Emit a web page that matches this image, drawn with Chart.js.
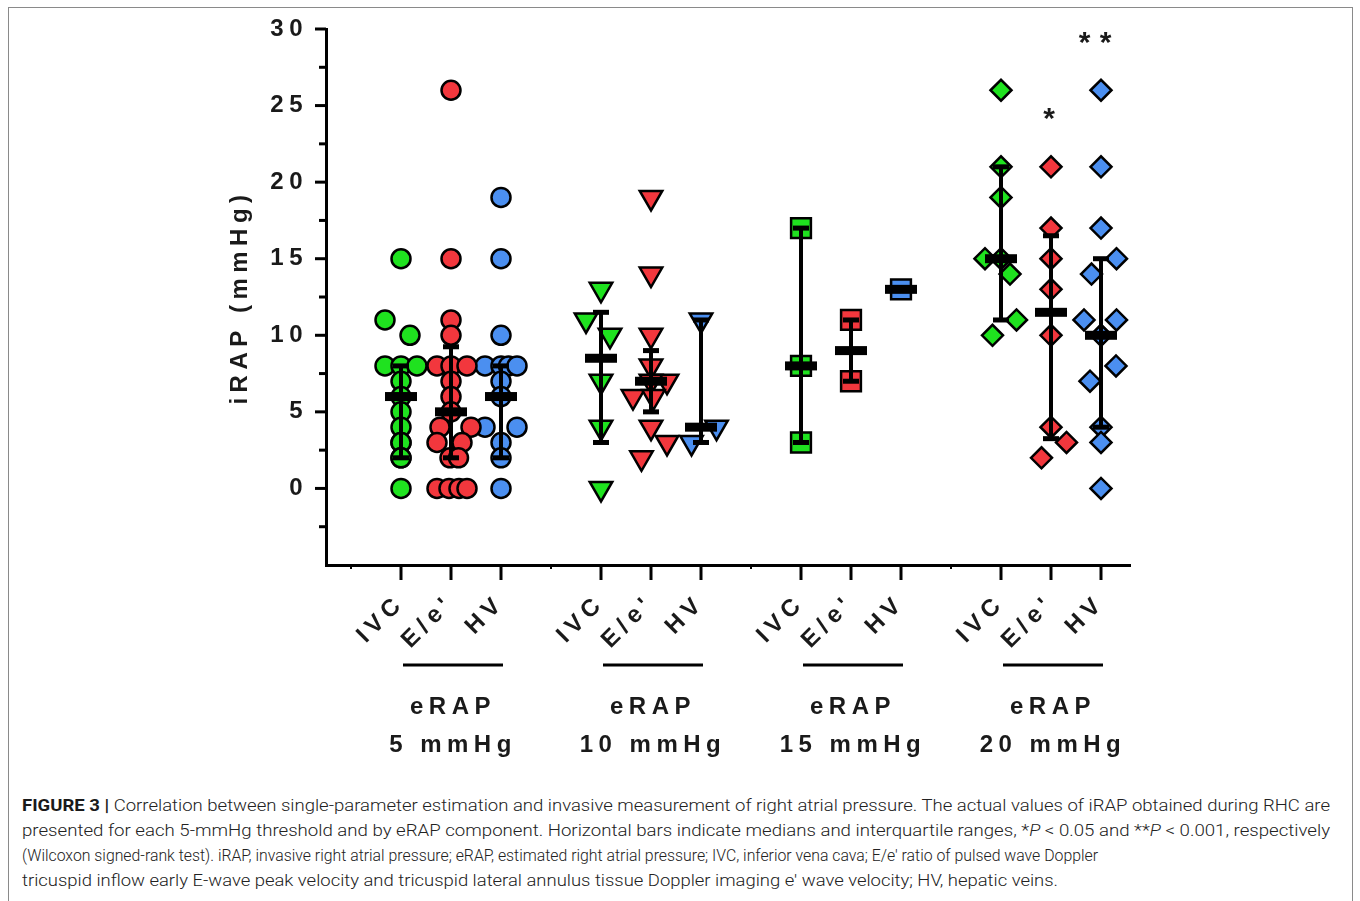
<!DOCTYPE html>
<html>
<head>
<meta charset="utf-8">
<title>iRAP by eRAP threshold</title>
<script src="https://cdn.jsdelivr.net/npm/chart.js@4.4.1/dist/chart.umd.min.js"></script>
<style>
  html, body { margin: 0; padding: 0; background: #fff; }
  body { width: 1360px; height: 901px; position: relative; overflow: hidden; }
  #frame {
    position: absolute; left: 8px; top: 7px; width: 1345px; height: 905px;
    border: 1.5px solid #8a8a8a; box-sizing: border-box;
  }
  #chart { position: absolute; left: 0; top: 0; }
  #caption {
    position: absolute; left: 22px; top: 793px;
    font-family: Roboto, "Liberation Sans", Arial, sans-serif;
    font-weight: 300; font-size: 17px; line-height: 25px; color: #222;
  }
  #caption .ln { white-space: nowrap; width: max-content; transform-origin: 0 50%; }
  #caption b { font-weight: 700; color: #1a1a1a; }
</style>
</head>
<body>
<div id="frame"></div>
<canvas id="chart" width="1360" height="780"></canvas>
<div id="caption">
  <div class="ln"><b>FIGURE 3 |</b> Correlation between single-parameter estimation and invasive measurement of right atrial pressure. The actual values of iRAP obtained during RHC are</div>
  <div class="ln">presented for each 5-mmHg threshold and by eRAP component. Horizontal bars indicate medians and interquartile ranges, *<i>P</i> &lt; 0.05 and **<i>P</i> &lt; 0.001, respectively</div>
  <div class="ln">(Wilcoxon signed-rank test). iRAP, invasive right atrial pressure; eRAP, estimated right atrial pressure; IVC, inferior vena cava; E/e′ ratio of pulsed wave Doppler</div>
  <div class="ln">tricuspid inflow early E-wave peak velocity and tricuspid lateral annulus tissue Doppler imaging e′ wave velocity; HV, hepatic veins.</div>
</div>

<script>
// ----------------------------------------------------------------
// Data
// ----------------------------------------------------------------

const groupLabels     = ["5 mmHg", "10 mmHg", "15 mmHg", "20 mmHg"];
const componentLabels = ["IVC", "E/e'", "HV"];
const yTickValues     = [0, 5, 10, 15, 20, 25, 30];

// Each series: iRAP values, plus horizontal jitter (in slot units) as plotted
// eRAP 5 mmHg — circles
const ivc5  = [15, 11, 10, 8, 8, 8, 7, 6, 5, 4, 3, 3, 2, 2, 0];
const ivc5j = [0, -0.32, 0.18, -0.32, 0, 0.32, 0, 0, 0, 0, 0, 0, 0, 0, 0];
const ee5   = [26, 15, 11, 10, 8, 8, 8, 7, 6, 5, 4, 4, 3, 3, 2, 2, 0, 0, 0, 0];
const ee5j  = [0, 0, 0, 0, -0.28, 0, 0.32, 0, 0, 0, -0.22, 0.4, -0.28, 0.22, -0.02, 0.15, -0.28, -0.04, 0.16, 0.32];
const hv5   = [19, 15, 10, 8, 8, 8, 8, 7, 6, 4, 4, 3, 2, 0];
const hv5j  = [0, 0, 0, -0.32, 0, 0.15, 0.32, 0, 0, -0.32, 0.32, 0, 0, 0];

// eRAP 10 mmHg — inverted triangles
const ivc10  = [13, 11, 10, 7, 4, 0];
const ivc10j = [0, -0.3, 0.18, 0, 0, 0];
const ee10   = [19, 14, 10, 8, 7, 7, 6, 6, 4, 3, 2];
const ee10j  = [0, 0, 0, 0, 0.32, 0, -0.36, 0.05, 0, 0.32, -0.19];
const hv10   = [11, 4, 3];
const hv10j  = [0, 0.31, -0.19];

// eRAP 15 mmHg — squares
const ivc15  = [17, 8, 3];
const ivc15j = [0, 0, 0];
const ee15   = [11, 7];
const ee15j  = [0, 0];
const hv15   = [13];
const hv15j  = [0];

// eRAP 20 mmHg — diamonds
const ivc20  = [26, 21, 19, 15, 15, 14, 11, 10];
const ivc20j = [0, 0, 0, -0.32, 0, 0.18, 0.31, -0.17];
const ee20   = [21, 17, 15, 13, 10, 4, 3, 2];
const ee20j  = [0, 0, 0, 0, 0, 0, 0.31, -0.19];
const hv20   = [26, 21, 17, 15, 14, 11, 11, 10, 10, 8, 7, 4, 3, 0];
const hv20j  = [0, 0, 0, 0.31, -0.19, -0.34, 0.31, 0, 0, 0.3, -0.22, 0, 0, 0];

// Median and interquartile range per series (IVC, E/e', HV for each threshold)
const medians = [6, 5, 6,   8.5, 7, 4,   8, 9, 13,   15, 11.5, 10];
const q1s     = [2, 2, 2,   3, 5, 3,     3, 7, 13,   11, 3.25, 4];
const q3s     = [8, 9.25, 8, 11.5, 9, 11, 17, 11, 13, 21, 16.5, 15];

// Significance marks vs. reference (Wilcoxon), by series index
const sigSeries = [10, 11];
const sigMarks  = ["*", "**"];


// ----------------------------------------------------------------
// Styling
// ----------------------------------------------------------------

const colors      = ["#1fe21f", "#f2373d", "#4b8ff0"];
const markerStyle = ["circle", "triangle", "rect", "rectRot"];
const markerSize  = [9.5, 13, 14, 10.5];
const markerRot   = [0, 180, 0, 0];
const LS          = "5.5px";
const AXIS_FONT   = { family: "'Liberation Sans', Arial, sans-serif", size: 24, weight: "bold" };

const allValues = [ivc5, ee5, hv5, ivc10, ee10, hv10, ivc15, ee15, hv15, ivc20, ee20, hv20];
const allJitter = [ivc5j, ee5j, hv5j, ivc10j, ee10j, hv10j, ivc15j, ee15j, hv15j, ivc20j, ee20j, hv20j];

// slot position on the linear x axis: groups of three with one empty slot between
function slotOf(i) {
  const g = Math.floor(i / 3), c = i % 3;
  return g * 4 + c;
}

const datasets = allValues.map((vals, i) => {
  const g = Math.floor(i / 3), c = i % 3;
  return {
    label: componentLabels[c] + " " + groupLabels[g],
    data: vals.map((v, k) => ({ x: slotOf(i) + allJitter[i][k], y: v })),
    pointStyle: markerStyle[g],
    pointRadius: markerSize[g],
    pointRotation: markerRot[g],
    pointBackgroundColor: colors[c],
    pointBorderColor: "#000",
    pointBorderWidth: 2.5,
    showLine: false,
  };
});

const xTickValues = [];
for (let i = 0; i < 12; i++) xTickValues.push(slotOf(i));


// ----------------------------------------------------------------
// Extra drawing: tick marks, median/IQR bars, group captions, stars
// ----------------------------------------------------------------

const extras = {
  id: "extras",
  beforeLayout(chart) { chart.ctx.letterSpacing = LS; },
  beforeDraw(chart) { chart.ctx.letterSpacing = LS; },

  afterDatasetsDraw(chart) {
    const ctx = chart.ctx, xs = chart.scales.x, ys = chart.scales.y;
    ctx.save();
    ctx.fillStyle = "#000";
    for (let i = 0; i < 12; i++) {
      const x  = xs.getPixelForValue(slotOf(i));
      const ym = ys.getPixelForValue(medians[i]);
      const y1 = ys.getPixelForValue(q1s[i]);
      const y3 = ys.getPixelForValue(q3s[i]);
      ctx.fillRect(x - 2, y3, 4, y1 - y3);          // IQR line
      ctx.fillRect(x - 8, y3 - 2.5, 16, 5);         // caps
      ctx.fillRect(x - 8, y1 - 2.5, 16, 5);
      ctx.fillRect(x - 16, ym - 4.5, 32, 9);        // median bar
    }
    ctx.restore();
  },

  afterDraw(chart) {
    const ctx = chart.ctx, xs = chart.scales.x, ys = chart.scales.y;
    const area = chart.chartArea;
    ctx.save();
    ctx.strokeStyle = "#000";
    ctx.lineWidth = 3;

    // y ticks: major every 5, minor halfway
    for (let v = -2.5; v <= 30; v += 2.5) {
      const y = ys.getPixelForValue(v);
      const len = (v % 5 === 0) ? 11 : 7;
      ctx.beginPath();
      ctx.moveTo(area.left, y);
      ctx.lineTo(area.left - len, y);
      ctx.stroke();
    }

    // x ticks: major at each series slot, short ones at the group gaps
    for (const v of xTickValues) {
      const x = xs.getPixelForValue(v);
      ctx.beginPath();
      ctx.moveTo(x, area.bottom);
      ctx.lineTo(x, area.bottom + 15);
      ctx.stroke();
    }
    ctx.lineWidth = 2;
    for (let g = 0; g < 4; g++) {
      const x = xs.getPixelForValue(g * 4 - 1);
      ctx.beginPath();
      ctx.moveTo(x, area.bottom);
      ctx.lineTo(x, area.bottom + 4);
      ctx.stroke();
    }

    // group underline + "eRAP / N mmHg"
    ctx.letterSpacing = LS;
    ctx.fillStyle = "#1a1a1a";
    ctx.font = "bold 24px 'Liberation Sans', Arial, sans-serif";
    ctx.textAlign = "center";
    ctx.textBaseline = "middle";
    ctx.lineWidth = 3;
    for (let g = 0; g < 4; g++) {
      const xa = xs.getPixelForValue(g * 4) + 2, xb = xs.getPixelForValue(g * 4 + 2) + 2;
      const xc = xs.getPixelForValue(g * 4 + 1) + 2;
      ctx.beginPath();
      ctx.moveTo(xa, area.bottom + 100);
      ctx.lineTo(xb, area.bottom + 100);
      ctx.stroke();
      ctx.fillText("eRAP", xc, area.bottom + 142);
      ctx.fillText(groupLabels[g], xc, area.bottom + 180);
    }

    // significance stars above the top point of the series
    ctx.letterSpacing = "0px";
    ctx.font = "bold 30px 'Liberation Sans', Arial, sans-serif";
    sigSeries.forEach((si, k) => {
      const top = Math.max(...allValues[si]);
      const y = ys.getPixelForValue(top) - 47;
      const x = xs.getPixelForValue(slotOf(si));
      const marks = sigMarks[k];
      const n = marks.length;
      for (let m = 0; m < n; m++) {
        const dx = (m - (n - 1) / 2) * 21 - (n > 1 ? 6 : 2);
        ctx.fillText("*", x + dx, y);
      }
    });
    ctx.restore();
  },
};


// ----------------------------------------------------------------
// Chart
// ----------------------------------------------------------------

new Chart(document.getElementById("chart").getContext("2d"), {
  type: "scatter",
  data: { datasets },
  options: {
    responsive: false,
    animation: false,
    layout: { padding: { left: 220, right: 230, top: 29, bottom: 0 } },
    plugins: { legend: { display: false }, tooltip: { enabled: false } },
    scales: {
      x: {
        type: "linear",
        min: -1.5,
        max: 14.58,
        afterBuildTicks: (s) => { s.ticks = xTickValues.map((v) => ({ value: v })); },
        afterFit: (s) => { s.height = 215; },
        grid: { display: false },
        border: { display: true, color: "#000", width: 3 },
        ticks: {
          autoSkip: false,
          minRotation: 45,
          maxRotation: 45,
          padding: 16,
          color: "#1a1a1a",
          font: AXIS_FONT,
          callback: (v) => componentLabels[((v % 4) + 4) % 4] || "",
        },
      },
      y: {
        min: -5,
        max: 30,
        afterBuildTicks: (s) => { s.ticks = yTickValues.map((v) => ({ value: v })); },
        afterFit: (s) => { s.width = 106; },
        grid: { display: false },
        border: { display: true, color: "#000", width: 3 },
        ticks: { padding: 10, color: "#1a1a1a", font: AXIS_FONT },
        title: {
          display: true,
          text: "iRAP (mmHg)",
          color: "#1a1a1a",
          font: AXIS_FONT,
          padding: { top: 6, bottom: 4 },
        },
      },
    },
  },
  plugins: [extras],
});


// ----------------------------------------------------------------
// Caption: stretch each line to the width it has in the figure
// ----------------------------------------------------------------

const lineWidths = [1308, 1308, 1076, 1036];
document.querySelectorAll("#caption .ln").forEach((el, i) => {
  const w = el.getBoundingClientRect().width;
  el.style.transform = "scaleX(" + (lineWidths[i] / w) + ")";
});
</script>
</body>
</html>
